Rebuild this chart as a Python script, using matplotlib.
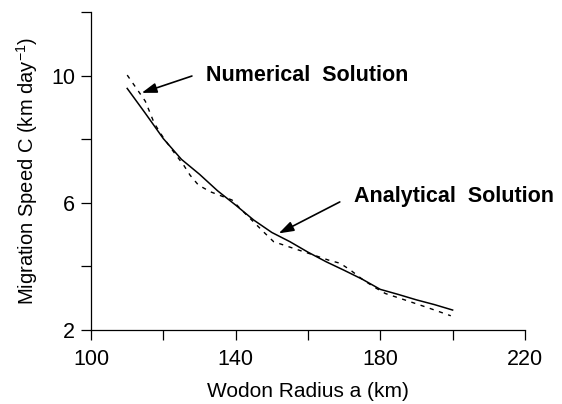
#!/usr/bin/env python3

import matplotlib
matplotlib.use("Agg")
import matplotlib.pyplot as plt

# analytical solution (solid)
analytical_x = [110, 115, 120, 125, 130, 135, 140, 145, 150, 155, 160,
                165, 170, 175, 180, 185, 190, 195, 200]
analytical_c = [9.60, 8.82, 8.02, 7.37, 6.90, 6.38, 5.93, 5.46, 5.07, 4.78, 4.45,
                4.15, 3.88, 3.60, 3.28, 3.12, 2.95, 2.80, 2.63]

# numerical solution (dashed)
numerical_x = [110, 115, 117.5, 120, 123, 125.6, 127.4, 129.7, 133, 139, 141.7,
               147.7, 150.5, 156, 160, 165.7, 168.9, 171.7, 175, 178.2, 181.4,
               187, 193, 199.5]
numerical_c = [10.02, 9.20, 8.50, 8.05, 7.58, 7.19, 6.87, 6.56, 6.35, 6.09, 5.77,
               5.09, 4.78, 4.57, 4.42, 4.20, 4.10, 3.89, 3.60, 3.36, 3.15,
               2.94, 2.71, 2.45]

x_ticks = [100, 120, 140, 160, 180, 200, 220]
x_labels = ["100", "", "140", "", "180", "", "220"]
y_ticks = [2, 4, 6, 8, 10, 12]
y_labels = ["2", "", "6", "", "10", ""]

plt.rcParams["font.family"] = ["Liberation Sans", "DejaVu Sans"]
plt.rcParams["mathtext.default"] = "regular"

fig = plt.figure(figsize=(5.62, 4.04), dpi=100)
ax = fig.add_axes([0.162, 0.183, 0.772, 0.787])

ax.plot(analytical_x, analytical_c, color="black", linewidth=1.1)
ax.plot(numerical_x, numerical_c, color="black", linewidth=1.0,
        linestyle=(0, (3, 4)))

ax.set_xlim(100, 220)
ax.set_ylim(2, 12)
ax.set_xticks(x_ticks)
ax.set_xticklabels(x_labels)
ax.set_yticks(y_ticks)
ax.set_yticklabels(y_labels)
ax.tick_params(direction="out", length=7.5, width=0.9, labelsize=15.5)
ax.tick_params(axis="x", pad=6)
ax.tick_params(axis="y", pad=4)

for side in ("top", "right"):
    ax.spines[side].set_visible(False)
for side in ("left", "bottom"):
    ax.spines[side].set_linewidth(0.9)

ax.set_xlabel("Wodon Radius a (km)", fontsize=15, labelpad=9)
ax.set_ylabel("Migration Speed C (km day$^{-1}$)", fontsize=14.5, labelpad=8)

arrow = dict(arrowstyle="-|>,head_length=0.9,head_width=0.3",
             color="black", lw=1.2, shrinkA=0, shrinkB=0)
ax.annotate("", xy=(114.0, 9.46), xytext=(127.9, 9.99), arrowprops=arrow)
ax.annotate("", xy=(151.9, 5.04), xytext=(168.8, 6.03), arrowprops=arrow)

ax.text(131.9, 10.02, "Numerical  Solution", fontsize=15.5, fontweight="bold",
        ha="left", va="center")
ax.text(172.6, 6.21, "Analytical  Solution", fontsize=15.5, fontweight="bold",
        ha="left", va="center")

fig.savefig("out.png", dpi=100)
